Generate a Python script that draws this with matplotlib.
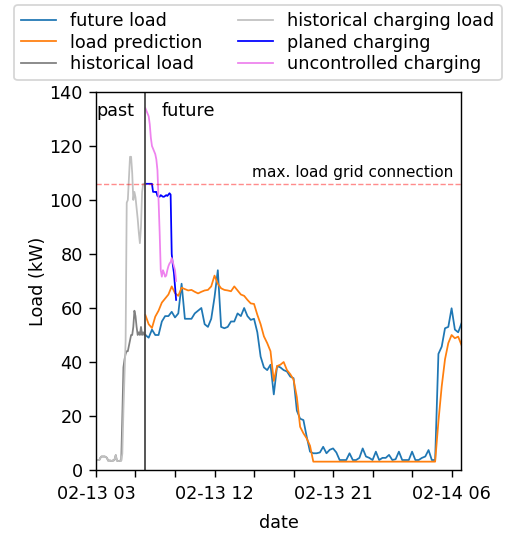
import pandas as pd
import matplotlib
matplotlib.use("Agg")
import matplotlib.pyplot as plt
from matplotlib.transforms import blended_transform_factory

# ---- measured history, 5-minute resolution (03:00 - 06:45) ----
hist_start = "2020-02-13 03:00"
hist_load = [3.7, 3.7, 3.7, 3.7, 4.5, 5, 5, 5, 5, 4.8,
             4.5, 3.5, 3.5, 3.5, 3.3, 3.5, 3.5, 4, 5.5, 3.5,
             3.3, 3.3, 3.5, 3.5, 20, 38, 41, 43, 44, 44,
             46, 48, 50, 50, 53, 59, 57, 53, 50, 51,
             50, 53, 50, 51, 50, 50]
hist_charging = [3.7, 3.7, 3.7, 3.7, 4.5, 5, 5, 5, 5, 4.8,
                 4.5, 3.5, 3.5, 3.5, 3.3, 3.5, 3.5, 4, 5.5, 3.5,
                 3.3, 3.3, 3.5, 3.5, 6, 22, 35, 48, 99, 100,
                 108, 116, 116, 110, 100, 103, 101, 97, 93, 88,
                 84, 90, 103, 106, 106, 106]

# ---- forecast horizon, 15-minute resolution (06:45 - 06:45 next day) ----
now = "2020-02-13 06:45"
future_load = [50, 49, 52, 50, 50, 55, 57, 57, 58.6, 56.5,
               58, 69, 56, 56, 56, 58, 59, 60, 54, 53,
               56, 64, 74, 53, 52.5, 53, 55, 55, 58, 57,
               60, 57, 55.6, 56, 51, 42, 38, 37, 39, 28,
               38.5, 38, 37, 36.5, 34.6, 34, 22, 19, 18.5, 12.3,
               6.8, 6.2, 6.2, 6.5, 8.6, 6.2, 7.5, 8, 6.5, 3.7,
               3.7, 3.7, 6.2, 3.7, 3.7, 4.5, 8, 5, 4.5, 3.7,
               6.8, 3.7, 4.5, 4.5, 5.6, 3.7, 4, 6.8, 3.7, 3.7,
               3.7, 6.8, 3.7, 3.7, 4.5, 5, 7.4, 3.7, 3.7, 43,
               45.7, 52.5, 53, 59.9, 52, 51, 54.3]
load_prediction = [57.4, 54, 52.6, 56.8, 59, 62, 63.5, 65, 68, 65.5,
                   64.5, 67.5, 67, 66.5, 66.7, 66, 65.4, 66, 66.5, 66.7,
                   68, 72, 69, 67.3, 66.7, 66.5, 66.2, 68, 66.5, 65,
                   64.5, 63, 61.7, 61.5, 57.5, 54, 49.5, 47, 44, 33,
                   38.5, 39, 40, 37, 35.5, 33.5, 27, 16, 13.6, 11.7,
                   9, 3.1, 3.1, 3.1, 3.1, 3.1, 3.1, 3.1, 3.1, 3.1,
                   3.1, 3.1, 3.1, 3.1, 3.1, 3.1, 3.1, 3.1, 3.1, 3.1,
                   3.1, 3.1, 3.1, 3.1, 3.1, 3.1, 3.1, 3.1, 3.1, 3.1,
                   3.1, 3.1, 3.1, 3.1, 3.1, 3.1, 3.1, 3.1, 3.1, 18,
                   31, 41, 47, 50, 48.8, 49.4, 46.3]

# ---- charging schedules, 5-minute resolution from 06:45 ----
planned_charging = [106, 106, 106, 106, 106, 106, 106, 103, 103, 103,
                    103, 101.5, 101.2, 101.2, 101.8, 101.5, 101.2, 101.2, 101.5, 101.8,
                    101.5, 102, 102.5, 102, 80, 76, 73, 68, 63]
uncontrolled_charging = [134, 133, 132, 131, 128, 123, 120, 119, 118, 117,
                         115, 111, 100, 88, 74, 71.6, 74, 73, 71.6, 72,
                         74, 75.5, 76.5, 77, 78.5, 77, 75.5, 74, 70]

grid_limit = 106
tick_labels = ["02-13 03", "", "", "02-13 12", "", "", "02-13 21", "", "", "02-14 06"]

hist_t = pd.date_range(hist_start, periods=len(hist_load), freq="5min")
future_t = pd.date_range(now, periods=len(future_load), freq="15min")
charge_t = pd.date_range(now, periods=len(planned_charging), freq="5min")
tick_t = pd.date_range(hist_start, periods=len(tick_labels), freq="3h")

fig = plt.figure(figsize=(506 / 127, 536 / 127), dpi=127)
ax = fig.add_axes([0.1897, 0.1231, 0.7223, 0.7053])

ax.plot(future_t, future_load, color="#1f77b4", lw=1.0, label="future load")
ax.plot(future_t, load_prediction, color="#ff7f0e", lw=1.0, label="load prediction")
ax.plot(hist_t, hist_load, color="gray", lw=1.0, label="historical load")
ax.plot(hist_t, hist_charging, color="silver", lw=1.0, label="historical charging load")
ax.plot(charge_t, planned_charging, color="blue", lw=1.0, label="planed charging")
ax.plot(charge_t, uncontrolled_charging, color="violet", lw=1.0, label="uncontrolled charging")

ax.axhline(grid_limit, color="red", alpha=0.45, lw=0.8, ls="--")
ax.axvline(pd.Timestamp(now), color="#444444", lw=1.0)

trans = blended_transform_factory(ax.transAxes, ax.transData)
ax.text(0.977, grid_limit + 1.3, "max. load grid connection", transform=trans,
        ha="right", va="bottom", fontsize=8.7)
ax.text(pd.Timestamp(now) - pd.Timedelta(minutes=52), 133, "past",
        ha="right", va="center", fontsize=10)
ax.text(pd.Timestamp(now) + pd.Timedelta(minutes=75), 133, "future",
        ha="left", va="center", fontsize=10)

ax.set_xlim(pd.Timestamp(hist_start), future_t[-1])
ax.set_ylim(0, 140)
ax.set_xticks(tick_t)
ax.set_xticklabels(tick_labels)
ax.tick_params(axis="both", length=4)
ax.tick_params(axis="x", pad=4.5)
ax.set_xlabel("date", labelpad=6)
ax.set_ylabel("Load (kW)", labelpad=1.5)

fig.legend(loc="upper left", bbox_to_anchor=(14 / 506, 1 - 5 / 536),
           bbox_transform=fig.transFigure, borderaxespad=0, ncol=2,
           labelspacing=0.2)

fig.savefig("out.png", dpi=127)
